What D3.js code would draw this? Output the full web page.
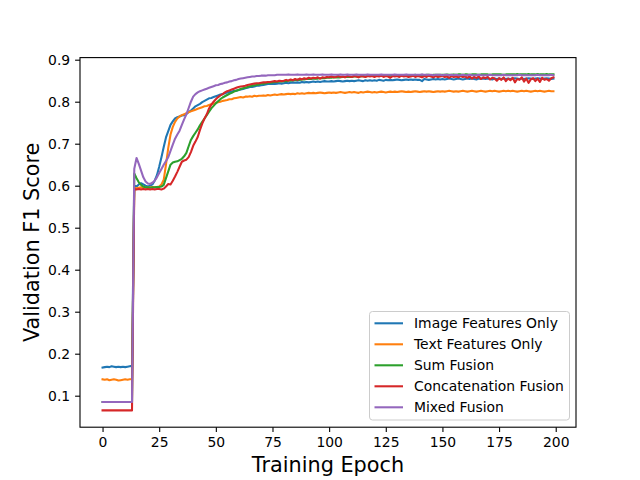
<!DOCTYPE html>
<html>
<head>
<meta charset="utf-8">
<script src="https://cdn.jsdelivr.net/npm/d3@7"></script>
<style>
  body { margin: 0; background: #fff; }
  svg { display: block; font-family: "DejaVu Sans", sans-serif; }
</style>
</head>
<body>
<div class="chart"></div>
<script>
// series names and colours (matplotlib tab10)
const seriesNames = ['Image Features Only', 'Text Features Only', 'Sum Fusion', 'Concatenation Fusion', 'Mixed Fusion'];
const seriesColors = ['#1f77b4', '#ff7f0e', '#2ca02c', '#d62728', '#9467bd'];

const xTicks = [0, 25, 50, 75, 100, 125, 150, 175, 200];
const yTicks = [0.1, 0.2, 0.3, 0.4, 0.5, 0.6, 0.7, 0.8, 0.9];

// validation F1 per epoch
const imageOnly = [
  0.167,0.168,0.169,0.168,0.170,0.169,0.168,0.169,0.168,0.169,
  0.168,0.169,0.170,0.171,0.600,0.598,0.603,0.606,0.603,0.600,
  0.598,0.600,0.603,0.612,0.625,0.645,0.668,0.692,0.715,0.730,
  0.745,0.753,0.760,0.763,0.765,0.767,0.768,0.771,0.775,0.779,
  0.784,0.789,0.792,0.795,0.799,0.802,0.805,0.808,0.809,0.811,
  0.813,0.815,0.817,0.818,0.820,0.822,0.823,0.824,0.826,0.826,
  0.828,0.829,0.830,0.832,0.833,0.835,0.835,0.836,0.838,0.838,
  0.839,0.840,0.841,0.842,0.842,0.843,0.842,0.843,0.844,0.843,
  0.844,0.845,0.844,0.845,0.846,0.845,0.846,0.845,0.847,0.846,
  0.847,0.846,0.847,0.848,0.847,0.848,0.847,0.848,0.849,0.848,
  0.848,0.849,0.848,0.849,0.850,0.849,0.848,0.849,0.850,0.849,
  0.850,0.849,0.850,0.851,0.850,0.849,0.851,0.850,0.851,0.850,
  0.851,0.850,0.852,0.851,0.850,0.852,0.851,0.852,0.851,0.852,
  0.853,0.852,0.851,0.852,0.853,0.852,0.853,0.852,0.853,0.852,
  0.852,0.849,0.854,0.853,0.852,0.853,0.854,0.853,0.854,0.853,
  0.854,0.853,0.854,0.855,0.854,0.853,0.854,0.855,0.854,0.853,
  0.854,0.855,0.854,0.855,0.854,0.853,0.855,0.854,0.855,0.854,
  0.855,0.854,0.853,0.855,0.854,0.855,0.854,0.855,0.854,0.855,
  0.854,0.855,0.856,0.855,0.854,0.855,0.854,0.855,0.856,0.855,
  0.854,0.855,0.856,0.855,0.854,0.855,0.856,0.855,0.854,0.855
];
const textOnly = [
  0.139,0.138,0.139,0.137,0.138,0.139,0.138,0.136,0.137,0.138,
  0.139,0.138,0.139,0.140,0.595,0.594,0.595,0.596,0.595,0.596,
  0.595,0.596,0.597,0.596,0.597,0.598,0.603,0.614,0.650,0.690,
  0.722,0.740,0.752,0.760,0.765,0.768,0.770,0.773,0.775,0.777,
  0.779,0.781,0.783,0.785,0.787,0.789,0.790,0.792,0.794,0.795,
  0.797,0.799,0.800,0.802,0.803,0.804,0.806,0.806,0.808,0.809,
  0.810,0.811,0.810,0.812,0.812,0.813,0.812,0.814,0.813,0.814,
  0.814,0.815,0.814,0.816,0.815,0.816,0.817,0.816,0.817,0.818,
  0.817,0.818,0.819,0.818,0.819,0.818,0.820,0.819,0.820,0.819,
  0.820,0.821,0.820,0.821,0.820,0.821,0.822,0.821,0.820,0.821,
  0.822,0.821,0.822,0.821,0.822,0.823,0.822,0.821,0.822,0.823,
  0.822,0.823,0.822,0.821,0.823,0.822,0.823,0.824,0.823,0.822,
  0.823,0.822,0.823,0.824,0.823,0.822,0.823,0.824,0.823,0.824,
  0.823,0.824,0.825,0.824,0.823,0.824,0.823,0.824,0.825,0.824,
  0.823,0.824,0.825,0.824,0.825,0.824,0.823,0.824,0.825,0.824,
  0.825,0.824,0.825,0.826,0.825,0.824,0.825,0.824,0.825,0.826,
  0.825,0.824,0.825,0.826,0.825,0.824,0.825,0.826,0.825,0.824,
  0.825,0.826,0.825,0.826,0.825,0.824,0.825,0.826,0.825,0.826,
  0.825,0.826,0.825,0.824,0.825,0.826,0.825,0.826,0.825,0.824,
  0.825,0.826,0.825,0.826,0.825,0.824,0.825,0.826,0.825,0.825
];
const sumFusion = [
  0.085,0.085,0.085,0.085,0.085,0.085,0.085,0.085,0.085,0.085,
  0.085,0.085,0.085,0.085,0.629,0.618,0.608,0.602,0.598,0.596,
  0.596,0.595,0.596,0.596,0.597,0.597,0.598,0.602,0.618,0.634,
  0.650,0.655,0.657,0.658,0.661,0.664,0.670,0.678,0.694,0.709,
  0.718,0.726,0.734,0.744,0.752,0.760,0.768,0.776,0.784,0.790,
  0.796,0.801,0.806,0.810,0.813,0.816,0.819,0.821,0.824,0.826,
  0.828,0.830,0.832,0.833,0.835,0.837,0.838,0.839,0.840,0.841,
  0.843,0.843,0.844,0.845,0.845,0.846,0.847,0.847,0.848,0.848,
  0.849,0.849,0.850,0.850,0.851,0.851,0.852,0.852,0.853,0.853,
  0.854,0.854,0.854,0.855,0.855,0.855,0.856,0.856,0.856,0.857,
  0.857,0.857,0.858,0.858,0.858,0.858,0.859,0.859,0.859,0.859,
  0.859,0.860,0.860,0.860,0.860,0.861,0.860,0.861,0.861,0.861,
  0.861,0.861,0.862,0.861,0.862,0.862,0.862,0.862,0.862,0.863,
  0.862,0.863,0.863,0.862,0.863,0.863,0.863,0.863,0.864,0.863,
  0.863,0.864,0.863,0.864,0.864,0.863,0.864,0.864,0.864,0.864,
  0.864,0.864,0.865,0.864,0.864,0.865,0.864,0.865,0.865,0.864,
  0.865,0.865,0.864,0.865,0.865,0.865,0.864,0.865,0.865,0.865,
  0.865,0.864,0.865,0.865,0.865,0.865,0.865,0.864,0.865,0.865,
  0.865,0.865,0.865,0.866,0.865,0.865,0.865,0.865,0.866,0.865,
  0.865,0.865,0.866,0.865,0.865,0.865,0.866,0.865,0.865,0.865
];
const concatFusion = [
  0.065,0.065,0.065,0.065,0.065,0.065,0.065,0.065,0.065,0.065,
  0.065,0.065,0.065,0.065,0.592,0.591,0.592,0.591,0.592,0.591,
  0.592,0.591,0.592,0.591,0.592,0.592,0.591,0.593,0.598,0.604,
  0.603,0.612,0.622,0.633,0.645,0.657,0.660,0.662,0.668,0.680,
  0.695,0.705,0.716,0.733,0.748,0.760,0.770,0.784,0.793,0.800,
  0.806,0.811,0.815,0.818,0.822,0.825,0.827,0.829,0.831,0.833,
  0.835,0.836,0.837,0.838,0.840,0.841,0.842,0.843,0.844,0.844,
  0.845,0.846,0.846,0.847,0.847,0.848,0.849,0.848,0.850,0.849,
  0.850,0.852,0.850,0.853,0.851,0.854,0.852,0.855,0.853,0.856,
  0.854,0.857,0.855,0.857,0.856,0.858,0.855,0.858,0.857,0.859,
  0.858,0.860,0.858,0.859,0.861,0.859,0.860,0.858,0.861,0.860,
  0.859,0.861,0.860,0.858,0.861,0.860,0.859,0.861,0.860,0.861,
  0.859,0.861,0.860,0.862,0.859,0.861,0.860,0.857,0.861,0.860,
  0.861,0.859,0.862,0.860,0.861,0.859,0.860,0.862,0.859,0.861,
  0.860,0.858,0.861,0.859,0.862,0.860,0.858,0.861,0.859,0.860,
  0.861,0.859,0.860,0.857,0.861,0.859,0.860,0.858,0.861,0.859,
  0.860,0.857,0.860,0.855,0.859,0.856,0.860,0.854,0.858,0.856,
  0.859,0.853,0.857,0.855,0.850,0.856,0.852,0.858,0.849,0.855,
  0.851,0.857,0.846,0.854,0.852,0.858,0.848,0.855,0.845,0.853,
  0.856,0.849,0.855,0.847,0.857,0.852,0.854,0.850,0.856,0.858
];
const mixedFusion = [
  0.085,0.085,0.085,0.085,0.085,0.085,0.085,0.085,0.085,0.085,
  0.085,0.085,0.085,0.085,0.640,0.666,0.652,0.636,0.620,0.610,
  0.605,0.604,0.607,0.612,0.620,0.630,0.640,0.650,0.659,0.668,
  0.683,0.698,0.712,0.722,0.731,0.745,0.758,0.770,0.785,0.800,
  0.812,0.818,0.822,0.825,0.827,0.829,0.831,0.833,0.835,0.837,
  0.839,0.840,0.842,0.843,0.845,0.846,0.848,0.849,0.851,0.852,
  0.854,0.855,0.856,0.857,0.858,0.859,0.860,0.860,0.861,0.861,
  0.862,0.862,0.862,0.863,0.863,0.863,0.863,0.864,0.864,0.864,
  0.864,0.864,0.865,0.864,0.864,0.864,0.865,0.864,0.864,0.864,
  0.865,0.864,0.864,0.865,0.864,0.864,0.864,0.865,0.864,0.864,
  0.864,0.865,0.864,0.864,0.864,0.865,0.864,0.864,0.865,0.864,
  0.864,0.864,0.865,0.864,0.864,0.864,0.864,0.865,0.864,0.864,
  0.864,0.864,0.864,0.865,0.864,0.864,0.864,0.864,0.864,0.865,
  0.864,0.864,0.864,0.864,0.865,0.864,0.864,0.864,0.864,0.864,
  0.864,0.865,0.864,0.864,0.864,0.864,0.863,0.864,0.864,0.864,
  0.863,0.864,0.864,0.863,0.864,0.863,0.864,0.863,0.863,0.864,
  0.863,0.863,0.864,0.863,0.863,0.863,0.864,0.863,0.863,0.863,
  0.863,0.864,0.863,0.863,0.863,0.863,0.863,0.864,0.863,0.863,
  0.863,0.863,0.863,0.863,0.864,0.863,0.863,0.863,0.863,0.863,
  0.863,0.863,0.864,0.863,0.863,0.863,0.863,0.863,0.864,0.863
];

const seriesValues = [imageOnly, textOnly, sumFusion, concatFusion, mixedFusion];

//sets up the figure like a default matplotlib 640x480 plot
const width = 640;
const height = 480;
const margin = {left: 80, right: 64, top: 57.6, bottom: 52.8};

const svg = d3.select('.chart')
    .append('svg')
    .attr('width', width)
    .attr('height', height);

const x = d3.scaleLinear()
    .domain([-9.95, 208.95])
    .range([margin.left, width - margin.right]);

const y = d3.scaleLinear()
    .domain([0.025, 0.905])
    .range([height - margin.bottom, margin.top]);

//draws the lines, clipped to the axes box
svg.append('clipPath')
    .attr('id', 'plot-clip')
    .append('rect')
    .attr('x', margin.left)
    .attr('y', margin.top)
    .attr('width', width - margin.left - margin.right)
    .attr('height', height - margin.top - margin.bottom);

const line = d3.line()
    .x((d, i) => x(i))
    .y(d => y(d));

svg.append('g')
    .attr('clip-path', 'url(#plot-clip)')
    .selectAll('path')
    .data(seriesValues)
    .enter()
    .append('path')
    .attr('d', line)
    .attr('fill', 'none')
    .attr('stroke', (d, i) => seriesColors[i])
    .attr('stroke-width', 2.08)
    .attr('stroke-linejoin', 'round')
    .attr('stroke-linecap', 'square');

//axes
const xAxis = svg.append('g')
    .attr('transform', `translate(0,${height - margin.bottom})`)
    .call(d3.axisBottom(x).tickValues(xTicks).tickFormat(d3.format('d')).tickSize(4.9).tickPadding(4.9));

const yAxis = svg.append('g')
    .attr('transform', `translate(${margin.left},0)`)
    .call(d3.axisLeft(y).tickValues(yTicks).tickFormat(d3.format('.1f')).tickSize(4.9).tickPadding(4.9));

[xAxis, yAxis].forEach(g => {
    g.select('.domain').remove();
    g.selectAll('.tick line').attr('stroke', '#000').attr('stroke-width', 1.1);
    g.selectAll('.tick text')
        .attr('fill', '#000')
        .style('font-size', '13.9px')
        .style('font-family', '"DejaVu Sans", sans-serif');
});

//axes frame
svg.append('rect')
    .attr('x', margin.left)
    .attr('y', margin.top)
    .attr('width', width - margin.left - margin.right)
    .attr('height', height - margin.top - margin.bottom)
    .attr('fill', 'none')
    .attr('stroke', '#000')
    .attr('stroke-width', 1.1);

//axis labels
svg.append('text')
    .text('Training Epoch')
    .attr('x', (margin.left + width - margin.right) / 2)
    .attr('y', 472)
    .attr('text-anchor', 'middle')
    .style('font-size', '20.8px');

svg.append('text')
    .text('Validation F1 Score')
    .attr('transform', `translate(39,${(margin.top + height - margin.bottom) / 2}) rotate(-90)`)
    .attr('text-anchor', 'middle')
    .style('font-size', '20.8px');

//legend
const legend = svg.append('g')
    .attr('transform', 'translate(369.5,311.5)');

legend.append('rect')
    .attr('width', 200)
    .attr('height', 108.5)
    .attr('rx', 3)
    .attr('fill', '#fff')
    .attr('fill-opacity', 0.8)
    .attr('stroke', '#cccccc')
    .attr('stroke-width', 1);

const items = legend.selectAll('.item')
    .data(seriesNames)
    .enter()
    .append('g')
    .attr('transform', (d, i) => `translate(0,${11.8 + i * 21})`);

items.append('line')
    .attr('x1', 5)
    .attr('x2', 33.5)
    .attr('stroke', (d, i) => seriesColors[i])
    .attr('stroke-width', 2.08);

items.append('text')
    .text(d => d)
    .attr('x', 44.5)
    .attr('dy', '0.36em')
    .style('font-size', '13.9px');
</script>
</body>
</html>
